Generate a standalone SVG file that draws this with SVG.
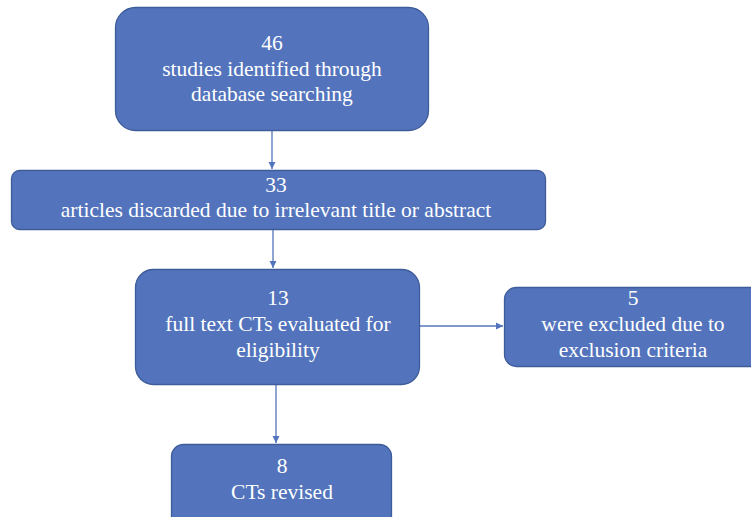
<svg xmlns="http://www.w3.org/2000/svg" width="751" height="517" viewBox="0 0 751 517">
<defs>
<style>
.box{fill:#5374BC;stroke:#3E5C99;stroke-width:1.3}
.t{font-family:"Liberation Serif","Times New Roman",serif;font-size:21.5px;fill:#FFFFFF;text-anchor:middle}
.c{stroke:#5374BC;stroke-width:1.3;fill:none}
</style>
<marker id="ah" markerWidth="8" markerHeight="8" refX="7" refY="4" orient="auto" markerUnits="userSpaceOnUse">
<path d="M0,0.5 L7,4 L0,7.5 Z" fill="#5374BC"/>
</marker>
</defs>
<g id="connectors">
<line class="c" x1="272" y1="131" x2="272" y2="169" marker-end="url(#ah)"/>
<line class="c" x1="273" y1="230" x2="273" y2="268" marker-end="url(#ah)"/>
<line class="c" x1="420" y1="326" x2="503" y2="326" marker-end="url(#ah)"/>
<line class="c" x1="276" y1="385" x2="276" y2="443" marker-end="url(#ah)"/>
</g>
<g id="n1">
<rect class="box" x="115.5" y="7.5" width="313" height="123" rx="20"/>
<text class="t" x="272" y="50">46</text>
<text class="t" x="272" y="76">studies identified through</text>
<text class="t" x="272" y="101">database searching</text>
</g>
<g id="n2">
<rect class="box" x="11.5" y="170.5" width="534" height="59" rx="8"/>
<text class="t" x="276" y="192">33</text>
<text class="t" x="276" y="217">articles discarded due to irrelevant title or abstract</text>
</g>
<g id="n3">
<rect class="box" x="135.5" y="269.5" width="284" height="115" rx="18"/>
<text class="t" x="278" y="305">13</text>
<text class="t" x="278" y="331">full text CTs evaluated for</text>
<text class="t" x="278" y="357">eligibility</text>
</g>
<g id="n4">
<rect class="box" x="504.5" y="287.5" width="260" height="79" rx="12"/>
<text class="t" x="633" y="305">5</text>
<text class="t" x="633" y="331">were excluded due to</text>
<text class="t" x="633" y="357">exclusion criteria</text>
</g>
<g id="n5">
<rect class="box" x="171.5" y="444.5" width="220" height="90" rx="12"/>
<text class="t" x="282" y="473">8</text>
<text class="t" x="282" y="499">CTs revised</text>
</g>
</svg>
